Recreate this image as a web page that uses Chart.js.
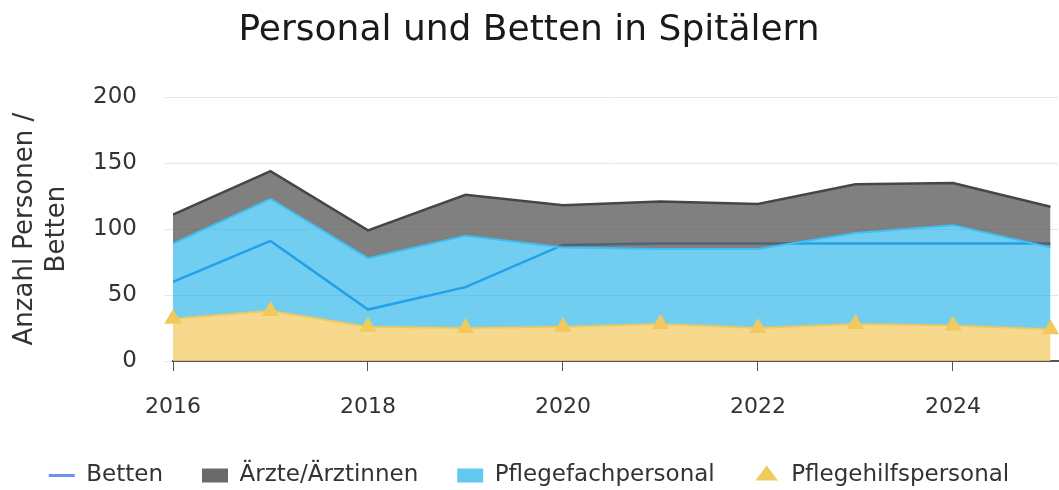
<!DOCTYPE html>
<html><head><meta charset="utf-8">
<script src="https://cdn.jsdelivr.net/npm/chart.js@4/dist/chart.umd.min.js"></script>
<style>html,body{margin:0;padding:0;background:#fff;}#wrap{width:1059px;height:490px;position:relative;}</style>
</head><body><div id="wrap"><canvas id="c"></canvas></div>
<script>
const years = [2016,2017,2018,2019,2020,2021,2022,2023,2024,2025];
const betten = [60,91,39,56,88,89,89,89,89,89];
const aerzte = [22,21,21,31,32,36,34,37,32,31];
const pflegefach = [57,85,52,70,60,57,60,69,76,62];
const pflegehilf = [32,38,26,25,26,28,25,28,27,24];
const xTicks = [2016,2018,2020,2022,2024];
const yTicks = [0,50,100,150,200];

const pts = arr => arr.map((v,i)=>({x:years[i],y:v}));
const FONT = "'DejaVu Sans', sans-serif";
const legendFill = ['#f2c95c','#62c9f1','#6a6a6a','#6f8ff7'];

new Chart(document.getElementById('c'), {
  type:'line',
  data:{datasets:[
    {label:'Pflegehilfspersonal', data:pts(pflegehilf), stack:'p', fill:'origin', clip:false,
     backgroundColor:'rgba(245,210,120,0.85)', borderColor:'rgba(240,200,90,0.9)', borderWidth:2,
     pointStyle:'triangle', pointRadius:8, pointBackgroundColor:'#f2c95c', pointBorderColor:'#f2c95c', tension:0},
    {label:'Pflegefachpersonal', data:pts(pflegefach), stack:'p', fill:'-1',
     backgroundColor:'rgba(20,173,230,0.6)', borderColor:'#3ec0f2', borderWidth:2,
     pointStyle:'rect', pointRadius:0, tension:0},
    {label:'Ärzte/Ärztinnen', data:pts(aerzte), stack:'p', fill:'-1',
     backgroundColor:'rgba(86,86,86,0.75)', borderColor:'#464646', borderWidth:2.5,
     pointStyle:'rect', pointRadius:0, tension:0},
    {label:'Betten', data:pts(betten), stack:'b', fill:false,
     borderColor:'#3d8cf2', backgroundColor:'#6f8ff7', borderWidth:2.5,
     pointStyle:'line', pointRadius:0, tension:0}
  ]},
  options:{
    responsive:true, maintainAspectRatio:false, animation:false,
    layout:{autoPadding:false, padding:{left:0,right:1,top:0,bottom:-7}},
    plugins:{
      title:{display:true, text:'Personal und Betten in Spitälern', color:'#1a1a1a',
        font:{family:FONT, size:36, weight:'normal'}, padding:{top:9,bottom:45}},
      legend:{position:'bottom', reverse:true,
        labels:{usePointStyle:true, pointStyleWidth:26, boxHeight:14, color:'#333',
          font:{family:FONT, size:23}, padding:39,
          generateLabels: chart => {
            const items = Chart.defaults.plugins.legend.labels.generateLabels(chart);
            items.forEach(it => {
              const c = legendFill[it.datasetIndex];
              it.fillStyle = c; it.strokeStyle = c;
              it.lineWidth = it.datasetIndex === 3 ? 3 : 0;
            });
            return items;
          }}},
      tooltip:{enabled:false}
    },
    scales:{
      x:{type:'linear', min:2016, max:2025.077,
        afterBuildTicks: s => { s.ticks = xTicks.map(v=>({value:v})); },
        afterFit: s => { s.height = 64; },
        ticks:{callback:v=>String(v), color:'#333', font:{family:FONT, size:22}, padding:23, maxRotation:0},
        grid:{drawOnChartArea:false, drawTicks:true, tickLength:10, color:'#555'},
        border:{color:'#555', width:2}},
      y:{stacked:true, min:0, max:200,
        afterBuildTicks: s => { s.ticks = yTicks.map(v=>({value:v})); },
        afterFit: s => { s.width = 173; },
        ticks:{color:'#333', font:{family:FONT, size:23}, padding:28},
        grid:{color:'#e6e6e6', tickLength:8},
        border:{display:false},
        title:{display:true, text:['Anzahl Personen /','Betten'], color:'#333',
          font:{family:FONT, size:26}, padding:{top:10,bottom:4}}}
    }
  }
});
</script></body></html>
